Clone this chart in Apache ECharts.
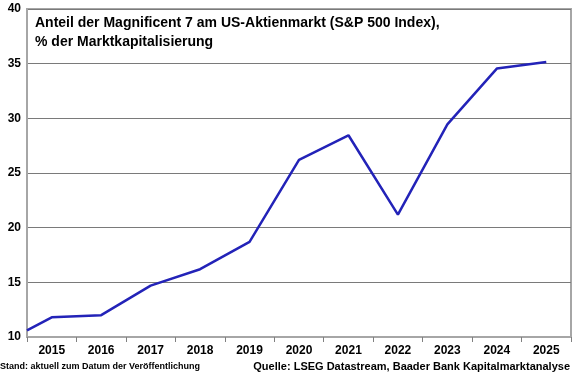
<!DOCTYPE html>
<html>
<head>
<meta charset="utf-8">
<script src="https://cdn.jsdelivr.net/npm/echarts@6/dist/echarts.min.js"></script>
<style>
  html, body { margin: 0; padding: 0; background: #fff; }
  #chart { width: 580px; height: 375px; }
</style>
</head>
<body>
<div id="chart"></div>
<script>
// Jahre (Achsenbeschriftung)
var years = ['2015', '2016', '2017', '2018', '2019', '2020', '2021', '2022', '2023', '2024', '2025'];
// Position auf der Achse: -0.5 = linker Rand (Start), 0 = 2015 ... 10 = 2025
var xPos = [-0.5, 0, 1, 2, 3, 4, 5, 6, 7, 8, 9, 10];
// Anteil in % der Marktkapitalisierung
var share = [10.6, 11.8, 12.0, 14.7, 16.2, 18.7, 26.2, 28.45, 21.2, 29.45, 34.55, 35.15];
var yTicks = [10, 15, 20, 25, 30, 35, 40];

function initChart() {
  var chart = echarts.init(document.getElementById('chart'));
  var lineData = xPos.map(function (x, i) { return [x, share[i]]; });
  var font = 'Liberation Sans, Arial, sans-serif';

  var option = {
    animation: false,
    grid: { left: 27, right: 9, top: 9, bottom: 38, show: true, borderColor: '#a6a6a6', borderWidth: 2 },
    title: [{
      text: 'Anteil der Magnificent 7 am US-Aktienmarkt (S&P 500 Index),\n% der Marktkapitalisierung',
      left: 30, top: 9,
      textStyle: { fontFamily: font, fontSize: 14, fontWeight: 'bold', color: '#000', lineHeight: 19 }
    }],
    graphic: [
      { type: 'text', left: 0, top: 362,
        style: { text: 'Stand: aktuell zum Datum der Veröffentlichung', font: 'bold 9px ' + font, fill: '#000' } },
      { type: 'text', right: 10, top: 361,
        style: { text: 'Quelle: LSEG Datastream, Baader Bank Kapitalmarktanalyse', font: 'bold 11px ' + font, fill: '#000' } }
    ],
    xAxis: [{
      type: 'category',
      data: years,
      boundaryGap: true,
      axisLine: { onZero: false, lineStyle: { color: '#a6a6a6', width: 2 } },
      axisTick: { show: true, length: 5, lineStyle: { color: '#808080' } },
      axisLabel: { color: '#000', fontFamily: font, fontWeight: 'bold', fontSize: 12, margin: 8 }
    }, {
      type: 'value',
      min: -0.5, max: 10.5,
      show: false,
      splitLine: { show: false }
    }],
    yAxis: {
      type: 'value',
      min: yTicks[0], max: yTicks[yTicks.length - 1], interval: 5,
      axisLine: { show: true, onZero: false, lineStyle: { color: '#a6a6a6', width: 2 } },
      axisTick: { show: false },
      axisLabel: { color: '#000', fontFamily: font, fontWeight: 'bold', fontSize: 12, margin: 6 },
      splitLine: { lineStyle: { color: '#7a7a7a', width: 1 } }
    },
    series: [{
      type: 'line',
      xAxisIndex: 1,
      data: lineData,
      symbol: 'none',
      lineStyle: { color: '#2323b8', width: 2.5 }
    }]
  };
  chart.setOption(option);
}

initChart();
</script>
</body>
</html>
